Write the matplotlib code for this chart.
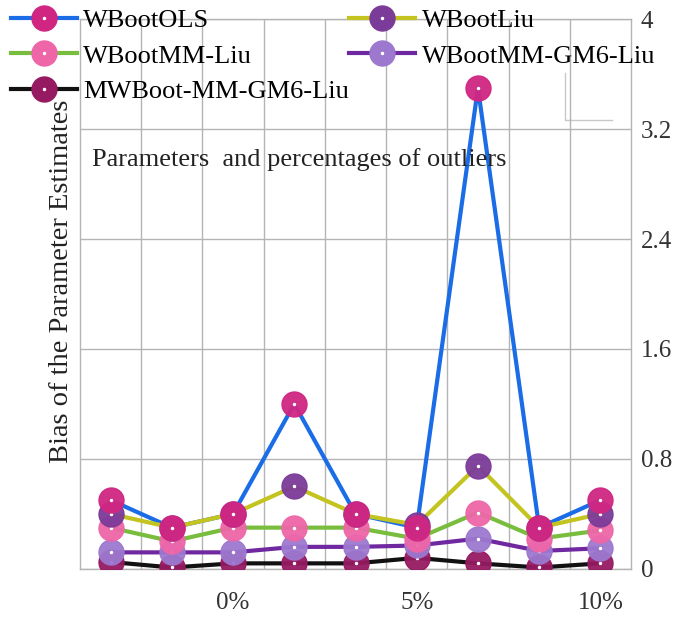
import matplotlib.pyplot as plt
from matplotlib.lines import Line2D
from matplotlib.legend_handler import HandlerTuple

plt.rcParams['font.family'] = ['Liberation Serif', 'DejaVu Serif']

# bias of the parameter estimates, 3 parameters x 3 outlier levels
labels = ['', '', '0%', '', '', '5%', '', '', '10%']
wboot_ols = [0.5, 0.3, 0.4, 1.2, 0.4, 0.3, 3.5, 0.3, 0.5]
wboot_liu = [0.4, 0.3, 0.4, 0.6, 0.4, 0.32, 0.75, 0.3, 0.4]
wboot_mm_liu = [0.3, 0.2, 0.3, 0.3, 0.3, 0.22, 0.41, 0.22, 0.28]
wboot_mm_gm6_liu = [0.12, 0.12, 0.12, 0.16, 0.16, 0.17, 0.22, 0.13, 0.15]
mwboot_mm_gm6_liu = [0.05, 0.01, 0.04, 0.04, 0.04, 0.08, 0.04, 0.01, 0.04]

series = [
    ('WBootOLS', wboot_ols, '#1a6de6', '#d02682'),
    ('WBootLiu', wboot_liu, '#c3c41f', '#7b3b98'),
    ('WBootMM-Liu', wboot_mm_liu, '#79bd3f', '#ee66a8'),
    ('WBootMM-GM6-Liu', wboot_mm_gm6_liu, '#7028a0', '#9c78cf'),
    ('MWBoot-MM-GM6-Liu', mwboot_mm_gm6_liu, '#111111', '#961a62'),
]

fig = plt.figure(figsize=(6.84, 6.19), dpi=100)
ax = fig.add_axes([0.117, 0.081, 0.8055, 0.888])

x = list(range(len(labels)))
handles = {}
for i, (name, vals, lc, mc) in enumerate(series):
    ax.plot(x, vals, color=lc, lw=3, zorder=3 + i * 0.1, solid_joinstyle='round')
for i, (name, vals, lc, mc) in enumerate(reversed(series)):
    ax.plot(x, vals, ls='none', marker='o', ms=18, mfc=mc, mec=mc, mew=1,
            alpha=0.95, zorder=5 + i * 0.1)
    ax.plot(x, vals, ls='none', marker='o', ms=2.5, mfc='white', mec='none',
            zorder=5.05 + i * 0.1)

for name, vals, lc, mc in series:
    h1 = Line2D([], [], color=lc, lw=3, marker='o', ms=18, mfc=mc, mec=mc)
    h2 = Line2D([], [], ls='none', marker='o', ms=2.5, mfc='white', mec='none')
    handles[name] = (h1, h2)

order = ['WBootOLS', 'WBootMM-Liu', 'MWBoot-MM-GM6-Liu', 'WBootLiu', 'WBootMM-GM6-Liu']
fig.legend([handles[n] for n in order], order, ncol=2, frameon=False,
           loc='upper left', bbox_to_anchor=(0.0, 1.003), fontsize=19,
           handlelength=2.5, handletextpad=0.25, columnspacing=0.0,
           labelspacing=0.45, borderaxespad=0,
           handler_map={tuple: HandlerTuple(ndivide=1)})

ax.set_xlim(-0.5, 8.5)
ax.set_ylim(0, 4)
ax.set_xticks(x)
ax.set_xticklabels(labels, fontsize=18, color='#333333')
ax.set_xticks([v + 0.5 for v in x[:-1]], minor=True)
ax.tick_params(axis='x', which='both', length=0, pad=17)
ax.yaxis.tick_right()
ax.set_yticks([0, 0.8, 1.6, 2.4, 3.2, 4])
ax.set_yticklabels(['0', '0.8', '1.6', '2.4', '3.2', '4'], fontsize=18, color='#333333')
ax.tick_params(axis='y', length=0, pad=7)
ax.grid(True, which='minor', axis='x', color='#b4b4b4', lw=1)
ax.grid(True, which='major', axis='y', color='#b4b4b4', lw=1)
for s in ax.spines.values():
    s.set_color('#b4b4b4')
    s.set_linewidth(1)

ax.text(0.022, 0.745, 'Parameters  and percentages of outliers', transform=ax.transAxes,
        fontsize=19, color='#222222', va='center', ha='left')
fig.text(0.09, 0.545, 'Bias of the Parameter Estimates', rotation=90,
         fontsize=20.5, color='#222222', va='center', ha='center')

# stray connector near the upper right corner
ax.plot([7.42, 7.42, 8.19], [3.61, 3.27, 3.27], color='#c8c8c8', lw=1, zorder=1)

fig.savefig('out.png', dpi=100)
